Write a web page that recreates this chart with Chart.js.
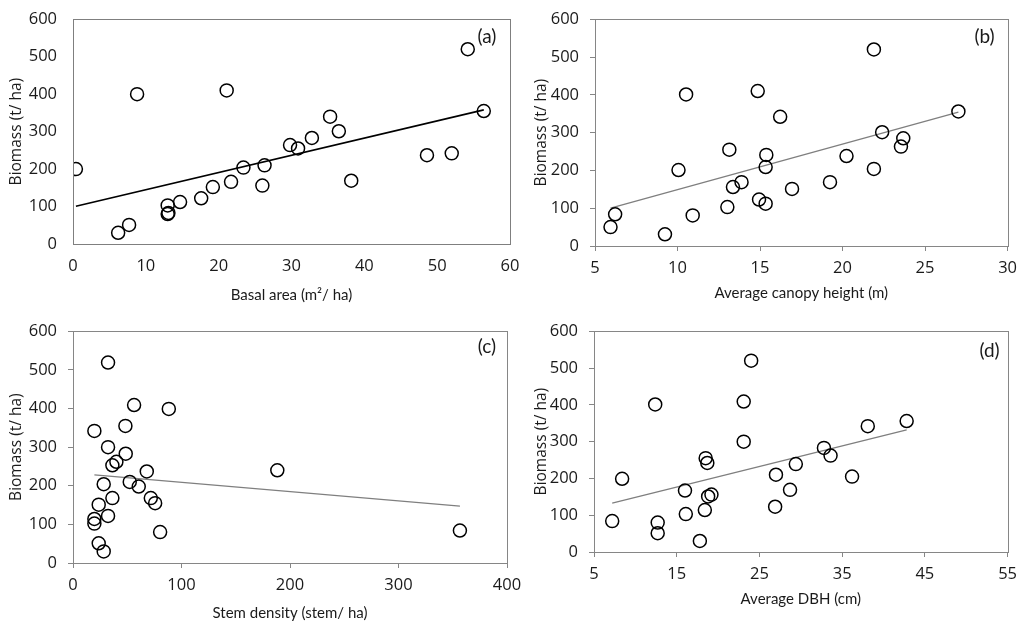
<!DOCTYPE html>
<html>
<head>
<meta charset="utf-8">
<script src="https://cdn.jsdelivr.net/npm/chart.js@4.4.1/dist/chart.umd.min.js"></script>
<style>
  html, body { margin: 0; padding: 0; background: #ffffff; }
  #wrap { position: relative; width: 1024px; height: 624px; overflow: hidden; background: #fff; }
  canvas { position: absolute; }
</style>
</head>
<body>
<div id="wrap">
  <canvas id="cA" width="530" height="312" style="left:0px;top:0px;"></canvas>
  <canvas id="cC" width="530" height="312" style="left:0px;top:312px;"></canvas>
  <canvas id="cB" width="512" height="312" style="left:512px;top:0px;"></canvas>
  <canvas id="cD" width="512" height="312" style="left:512px;top:312px;"></canvas>
</div>
<script>
// ---------- DATA ----------
const biomassTicks = [0, 100, 200, 300, 400, 500, 600];

// (a) Basal area (m2/ha) vs biomass
const basalArea = [0.4, 6.2, 7.7, 8.8, 13.0, 13.0, 13.1, 14.7, 17.6, 19.2, 21.1, 21.7, 23.4, 26.0, 26.3, 29.8, 30.9, 32.8, 35.3, 36.5, 38.2, 48.6, 52.0, 54.2, 56.4];
const biomassA  = [200, 30, 51, 400, 103, 80, 83, 112, 122, 152, 410, 166, 204, 156, 210, 264, 255, 283, 340, 301, 169, 237, 242, 520, 355];
const trendA    = [[0.4, 101], [56.4, 358]];

// (b) Average canopy height (m) vs biomass
const canopyHeight = [5.94, 6.22, 9.24, 10.06, 10.52, 10.92, 13.02, 13.14, 13.36, 13.88, 14.86, 14.94, 15.34, 15.34, 15.38, 16.22, 16.94, 19.24, 20.24, 21.9, 21.9, 22.4, 23.54, 23.68, 27.02];
const biomassB     = [50, 84, 31, 201, 401, 81, 103, 255, 156, 169, 410, 123, 112, 209, 241, 342, 151, 169, 238, 520, 204, 301, 263, 285, 356];
const trendB       = [[5.94, 100], [27.02, 354]];

// (c) Stem density (stem/ha) vs biomass
const stemDensity = [19.7, 19.7, 19.7, 23.7, 23.7, 28.3, 28.3, 32.3, 32.3, 32.3, 36.3, 36.3, 40, 48.3, 48.6, 52.3, 56.3, 60.6, 68, 71.7, 75.7, 80.3, 88.3, 188.3, 356.6];
const biomassC    = [342, 114, 102, 151, 51, 30, 204, 519, 300, 122, 168, 253, 262, 355, 283, 210, 409, 198, 237, 168, 155, 80, 399, 240, 84];
const trendC      = [[19.7, 228], [356.6, 147]];

// (d) Average DBH (cm) vs biomass
const avgDBH   = [7.2, 8.4, 12.4, 12.7, 12.7, 16.0, 16.1, 17.8, 18.4, 18.5, 18.7, 18.8, 19.2, 23.1, 23.1, 24.0, 26.9, 27.0, 28.7, 29.4, 32.8, 33.6, 36.2, 38.1, 42.8];
const biomassD = [84, 199, 401, 80, 51, 167, 103, 30, 114, 255, 242, 151, 156, 300, 409, 520, 123, 210, 169, 239, 283, 262, 205, 342, 356];
const trendD   = [[7.2, 133], [42.8, 332]];

const xTicksA = [0, 10, 20, 30, 40, 50, 60];
const xTicksB = [5, 10, 15, 20, 25, 30];
const xTicksC = [0, 100, 200, 300, 400];
const xTicksD = [5, 15, 25, 35, 45, 55];

// ---------- RENDER ----------
const FONT = 'Lato, "Open Sans", "DejaVu Sans", sans-serif';
const WFONT = '"Open Sans", Lato, "DejaVu Sans", sans-serif';
const TXT = '#1a1a1a';

const framePlugin = {
  id: 'frame',
  afterDatasetsDraw(chart, args, opts) {
    const { ctx, chartArea: a } = chart;
    ctx.save();
    ctx.strokeStyle = opts.color;
    ctx.lineWidth = 1;
    ctx.strokeRect(Math.round(a.left) + 0.5, Math.round(a.top) + 0.5,
                   Math.round(a.right - a.left), Math.round(a.bottom - a.top));
    ctx.font = '19px ' + FONT;
    ctx.fillStyle = TXT;
    ctx.textAlign = 'center';
    ctx.textBaseline = 'middle';
    ctx.fillText(opts.label, a.right - opts.dx, a.top + opts.dy);
    ctx.restore();
  }
};

function pairs(xs, ys) { return xs.map((x, i) => ({ x: x, y: ys[i] })); }

function makeChart(id, p) {
  const ticksList = p.xTicks;
  return new Chart(document.getElementById(id), {
    type: 'scatter',
    data: {
      datasets: [
        {
          data: pairs(p.xs, p.ys),
          pointStyle: 'circle',
          pointRadius: 6.5,
          pointHoverRadius: 6.5,
          pointBorderWidth: 1.5,
          pointBorderColor: '#000000',
          pointBackgroundColor: 'rgba(0,0,0,0)',
          showLine: false,
          order: 1
        },
        {
          data: p.trend.map(t => ({ x: t[0], y: t[1] })),
          showLine: true,
          borderColor: p.lineColor,
          borderWidth: p.lineWidth,
          pointRadius: 0,
          fill: false,
          order: 2
        }
      ]
    },
    options: {
      responsive: false,
      animation: false,
      devicePixelRatio: 1,
      layout: { padding: p.pad },
      plugins: {
        legend: { display: false },
        tooltip: { enabled: false },
        frame: { color: p.frameColor, label: p.label, dx: p.lab[0], dy: p.lab[1] }
      },
      scales: {
        x: {
          type: 'linear',
          min: ticksList[0],
          max: ticksList[ticksList.length - 1],
          afterBuildTicks: s => { s.ticks = ticksList.map(v => ({ value: v })); },
          afterFit: s => { s.height = p.xH; },
          grid: { display: true, drawOnChartArea: false, drawTicks: true, tickLength: 5, color: p.tickColor },
          border: { display: true, color: p.frameColor },
          ticks: { color: TXT, font: { family: WFONT, size: 16.5 }, padding: 7, maxRotation: 0 },
          title: { display: true, text: p.xTitle, color: TXT, font: { family: FONT, size: 15 }, padding: { top: 0, bottom: p.xTitlePad } }
        },
        y: {
          type: 'linear',
          min: 0,
          max: 600,
          afterBuildTicks: s => { s.ticks = biomassTicks.map(v => ({ value: v })); },
          afterFit: s => { s.width = p.yW; },
          grid: { display: true, drawOnChartArea: false, drawTicks: true, tickLength: 5, color: p.tickColor },
          border: { display: true, color: p.frameColor },
          ticks: { color: TXT, font: { family: WFONT, size: 16.5, lineHeight: 1 }, padding: 11 },
          title: { display: true, text: 'Biomass (t/ ha)', color: TXT, font: { family: WFONT, size: 15.5 }, padding: { top: p.yTitlePad, bottom: 0 } }
        }
      }
    },
    plugins: [framePlugin]
  });
}

makeChart('cA', {
  xs: basalArea, ys: biomassA, trend: trendA, xTicks: xTicksA,
  xTitle: 'Basal area (m²/ ha)', label: '(a)', lab: [23, 18],
  pad: { left: 0, top: 13, right: 20, bottom: 0 }, xH: 68, yW: 73,
  xTitlePad: 8, yTitlePad: 7,
  lineColor: '#000000', lineWidth: 1.6, frameColor: '#7f7f7f', tickColor: 'rgba(0,0,0,0)'
});
makeChart('cB', {
  xs: canopyHeight, ys: biomassB, trend: trendB, xTicks: xTicksB,
  xTitle: 'Average canopy height (m)', label: '(b)', lab: [23, 18],
  pad: { left: 0, top: 13, right: 12, bottom: 0 }, xH: 66, yW: 83,
  xTitlePad: 10, yTitlePad: 20,
  lineColor: '#7f7f7f', lineWidth: 1.3, frameColor: '#868686', tickColor: '#868686'
});
makeChart('cC', {
  xs: stemDensity, ys: biomassC, trend: trendC, xTicks: xTicksC,
  xTitle: 'Stem density (stem/ ha)', label: '(c)', lab: [20, 16],
  pad: { left: 0, top: 14, right: 23, bottom: 0 }, xH: 61, yW: 73,
  xTitlePad: 2, yTitlePad: 7,
  lineColor: '#7f7f7f', lineWidth: 1.3, frameColor: '#868686', tickColor: '#868686'
});
makeChart('cD', {
  xs: avgDBH, ys: biomassD, trend: trendD, xTicks: xTicksD,
  xTitle: 'Average DBH (cm)', label: '(d)', lab: [18, 20],
  pad: { left: 0, top: 8, right: 13, bottom: 0 }, xH: 72, yW: 82,
  xTitlePad: 16, yTitlePad: 20,
  lineColor: '#7f7f7f', lineWidth: 1.3, frameColor: '#868686', tickColor: '#868686'
});
</script>
</body>
</html>
